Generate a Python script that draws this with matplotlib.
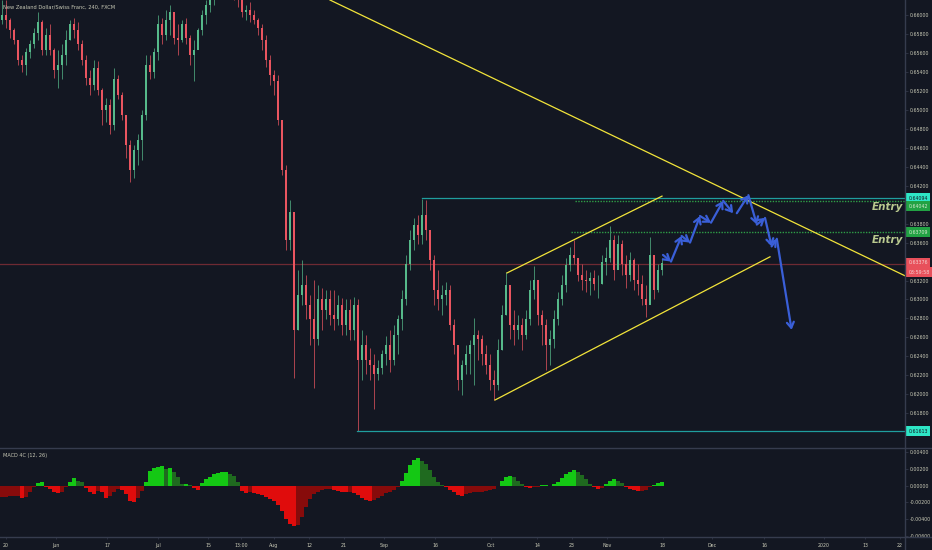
import numpy as np
import matplotlib
matplotlib.use("Agg")
import matplotlib.pyplot as plt
from matplotlib.lines import Line2D

BG = "#131722"
TXT = "#c8c9b6"
SEP = "#363c4e"
UP = "#56b98a"
DOWN = "#ea5560"

highs = [0.6616, 0.6616, 0.6597, 0.6586, 0.6569, 0.6558, 0.6565, 0.6574, 0.6586, 0.6603,
         0.6595, 0.6586, 0.6590, 0.6565, 0.6563, 0.6569, 0.6584, 0.6595, 0.6597, 0.6593,
         0.6574, 0.6558, 0.6542, 0.6553, 0.6551, 0.6523, 0.6513, 0.6511, 0.6544, 0.6537,
         0.6519, 0.6495, 0.6468, 0.6463, 0.6474, 0.6500, 0.6558, 0.6558, 0.6565, 0.6600,
         0.6597, 0.6605, 0.6611, 0.6600, 0.6590, 0.6595, 0.6597, 0.6579, 0.6574, 0.6586,
         0.6605, 0.6616, 0.6621, 0.6637, 0.6653, 0.6658, 0.6658, 0.6648, 0.6642, 0.6632,
         0.6621, 0.6611, 0.6614, 0.6605, 0.6597, 0.6590, 0.6579, 0.6558, 0.6542, 0.6537,
         0.6489, 0.6442, 0.6405, 0.6392, 0.6331, 0.6342, 0.6326, 0.6305, 0.6321, 0.6315,
         0.6312, 0.6310, 0.6310, 0.6310, 0.6305, 0.6302, 0.6300, 0.6300, 0.6303, 0.6300,
         0.6268, 0.6263, 0.6249, 0.6242, 0.6236, 0.6247, 0.6261, 0.6268, 0.6273, 0.6284,
         0.6310, 0.6347, 0.6373, 0.6386, 0.6389, 0.6406, 0.6405, 0.6373, 0.6347, 0.6331,
         0.6315, 0.6318, 0.6315, 0.6279, 0.6252, 0.6236, 0.6252, 0.6257, 0.6281, 0.6268,
         0.6263, 0.6252, 0.6242, 0.6226, 0.6258, 0.6294, 0.6329, 0.6315, 0.6289, 0.6284,
         0.6281, 0.6289, 0.6321, 0.6335, 0.6315, 0.6289, 0.6279, 0.6268, 0.6289, 0.6308,
         0.6326, 0.6344, 0.6355, 0.6363, 0.6344, 0.6337, 0.6331, 0.6329, 0.6331, 0.6326,
         0.6347, 0.6355, 0.6377, 0.6368, 0.6368, 0.6363, 0.6347, 0.6350, 0.6344, 0.6337,
         0.6326, 0.6315, 0.6366, 0.6347, 0.6337, 0.6344]
lows = [0.6590, 0.6586, 0.6576, 0.6569, 0.6547, 0.6540, 0.6537, 0.6555, 0.6565, 0.6574,
        0.6558, 0.6558, 0.6558, 0.6534, 0.6523, 0.6532, 0.6547, 0.6574, 0.6576, 0.6563,
        0.6547, 0.6526, 0.6516, 0.6521, 0.6516, 0.6484, 0.6487, 0.6474, 0.6479, 0.6511,
        0.6489, 0.6449, 0.6424, 0.6428, 0.6442, 0.6447, 0.6489, 0.6532, 0.6534, 0.6553,
        0.6569, 0.6574, 0.6579, 0.6569, 0.6558, 0.6572, 0.6569, 0.6547, 0.6530, 0.6569,
        0.6579, 0.6590, 0.6603, 0.6611, 0.6627, 0.6632, 0.6632, 0.6621, 0.6616, 0.6608,
        0.6598, 0.6595, 0.6593, 0.6590, 0.6579, 0.6563, 0.6545, 0.6526, 0.6516, 0.6484,
        0.6431, 0.6352, 0.6352, 0.6217, 0.6268, 0.6294, 0.6279, 0.6252, 0.6207, 0.6252,
        0.6268, 0.6279, 0.6273, 0.6268, 0.6273, 0.6263, 0.6263, 0.6257, 0.6257, 0.6161,
        0.6215, 0.6221, 0.6215, 0.6184, 0.6215, 0.6221, 0.6231, 0.6224, 0.6231, 0.6242,
        0.6268, 0.6294, 0.6331, 0.6352, 0.6358, 0.6358, 0.6363, 0.6331, 0.6294, 0.6289,
        0.6284, 0.6294, 0.6268, 0.6242, 0.6205, 0.6199, 0.6221, 0.6221, 0.6210, 0.6236,
        0.6231, 0.6221, 0.6205, 0.6194, 0.6205, 0.6247, 0.6284, 0.6258, 0.6252, 0.6258,
        0.6247, 0.6258, 0.6273, 0.6300, 0.6273, 0.6252, 0.6226, 0.6231, 0.6249, 0.6273,
        0.6294, 0.6308, 0.6330, 0.6337, 0.6319, 0.6310, 0.6308, 0.6305, 0.6310, 0.6302,
        0.6316, 0.6326, 0.6340, 0.6321, 0.6333, 0.6326, 0.6312, 0.6319, 0.6310, 0.6305,
        0.6294, 0.6282, 0.6300, 0.6300, 0.6308, 0.6326]
closes = [0.6600, 0.6595, 0.6584, 0.6574, 0.6553, 0.6547, 0.6561, 0.6569, 0.6581, 0.6593,
          0.6563, 0.6579, 0.6563, 0.6542, 0.6547, 0.6558, 0.6574, 0.6590, 0.6584, 0.6569,
          0.6553, 0.6534, 0.6526, 0.6544, 0.6521, 0.6500, 0.6505, 0.6484, 0.6532, 0.6516,
          0.6495, 0.6463, 0.6437, 0.6458, 0.6468, 0.6495, 0.6547, 0.6540, 0.6561, 0.6590,
          0.6579, 0.6595, 0.6603, 0.6576, 0.6574, 0.6590, 0.6576, 0.6558, 0.6563, 0.6584,
          0.6600, 0.6611, 0.6621, 0.6627, 0.6642, 0.6648, 0.6642, 0.6632, 0.6627, 0.6616,
          0.6603, 0.6605, 0.6600, 0.6595, 0.6586, 0.6574, 0.6553, 0.6537, 0.6530, 0.6489,
          0.6437, 0.6363, 0.6392, 0.6268, 0.6305, 0.6315, 0.6294, 0.6279, 0.6258, 0.6300,
          0.6289, 0.6300, 0.6284, 0.6279, 0.6294, 0.6273, 0.6289, 0.6268, 0.6294, 0.6236,
          0.6252, 0.6236, 0.6231, 0.6221, 0.6228, 0.6242, 0.6252, 0.6236, 0.6263, 0.6279,
          0.6300, 0.6337, 0.6363, 0.6379, 0.6368, 0.6389, 0.6373, 0.6342, 0.6310, 0.6300,
          0.6305, 0.6310, 0.6273, 0.6252, 0.6215, 0.6231, 0.6242, 0.6252, 0.6263, 0.6258,
          0.6242, 0.6231, 0.6215, 0.6210, 0.6247, 0.6284, 0.6315, 0.6273, 0.6268, 0.6273,
          0.6263, 0.6279, 0.6310, 0.6321, 0.6284, 0.6273, 0.6252, 0.6258, 0.6279, 0.6300,
          0.6315, 0.6336, 0.6347, 0.6344, 0.6326, 0.6321, 0.6319, 0.6323, 0.6316, 0.6316,
          0.6340, 0.6344, 0.6363, 0.6331, 0.6358, 0.6337, 0.6326, 0.6342, 0.6321, 0.6316,
          0.6300, 0.6294, 0.6347, 0.6310, 0.6331, 0.6338]
first_open = 0.6595

# MACD 4C (12, 26) values per candle
macd = [-0.0014, -0.0014, -0.0012, -0.0012, -0.0012, -0.0015, -0.0014, -0.0008, -0.0002, 0.0003,
        0.0005, -0.0002, -0.0004, -0.0008, -0.0009, -0.0007, -0.0002, 0.0004, 0.0009, 0.0006,
        0.0004, -0.0003, -0.0008, -0.0010, -0.0006, -0.0008, -0.0015, -0.0012, -0.0008, -0.0004,
        -0.0005, -0.0010, -0.0018, -0.0020, -0.0015, -0.0006, 0.0005, 0.0018, 0.0021, 0.0023,
        0.0024, 0.0020, 0.0021, 0.0016, 0.0010, 0.0002, 0.0002, 0.0001, -0.0003, -0.0005,
        0.0003, 0.0008, 0.0011, 0.0014, 0.0015, 0.0016, 0.0016, 0.0014, 0.0012, 0.0004,
        -0.0006, -0.0009, -0.0008, -0.0009, -0.0010, -0.0011, -0.0014, -0.0016, -0.0018, -0.0023,
        -0.0030, -0.0040, -0.0046, -0.0049, -0.0047, -0.0038, -0.0026, -0.0016, -0.0010, -0.0007,
        -0.0005, -0.0004, -0.0004, -0.0005, -0.0006, -0.0007, -0.0008, -0.0008, -0.0009, -0.0011,
        -0.0015, -0.0017, -0.0018, -0.0017, -0.0015, -0.0012, -0.0009, -0.0007, -0.0005, -0.0002,
        0.0006, 0.0015, 0.0025, 0.0031, 0.0033, 0.0030, 0.0026, 0.0019, 0.0011, 0.0005,
        0.0001, -0.0002, -0.0005, -0.0008, -0.0011, -0.0012, -0.0010, -0.0009, -0.0008, -0.0008,
        -0.0007, -0.0006, -0.0005, -0.0004, 0.0000, 0.0006, 0.0011, 0.0012, 0.0010, 0.0006,
        0.0002, -0.0002, -0.0003, -0.0002, -0.0001, 0.0001, 0.0001, 0.0000, 0.0002, 0.0005,
        0.0009, 0.0014, 0.0017, 0.0019, 0.0017, 0.0013, 0.0008, 0.0002, -0.0002, -0.0004,
        -0.0003, 0.0002, 0.0006, 0.0008, 0.0006, 0.0003, -0.0002, -0.0004, -0.0005, -0.0006,
        -0.0006, -0.0005, -0.0002, 0.0001, 0.0003, 0.0004]

# time axis (bar index of each date label)
x_tick_pos = [1, 13.5, 26.25, 39, 51.5, 59.75, 68, 76.75, 85.5, 95.5, 108.25,
              122.25, 133.75, 142.5, 151.25, 165.25, 177.5, 190.5, 205.5, 215.75, 224.5]
x_tick_labels = ["20", "Jun", "17", "Jul", "15", "13:00", "Aug", "12", "21", "Sep", "16",
                 "Oct", "14", "23", "Nov", "18", "Dec", "16", "2020", "13", "22"]

price_ticks = [0.618 + 0.002 * k for k in range(22)]
macd_ticks = [0.004, 0.002, 0.0, -0.002, -0.004, -0.006]
macd_tick_labels = ["0.00400", "0.00200", "0.00000", "-0.00200", "-0.00400", "-0.00600"]

# drawings: (bar index, price) anchors
big_trend = [(82, 0.66158), (225.75, 0.6325)]
chan_upper = [(126.25, 0.6328), (165, 0.6409)]
chan_lower = [(123.25, 0.6194), (192, 0.6345)]
top_level = 0.64070
top_level_start = 105
entry_levels = [0.64042, 0.63709]
entry_starts = [143.25, 142.25]
low_level = 0.61613
low_level_start = 88.75
last_price = 0.63376
path = [(165.25, 0.6347), (167.25, 0.6340), (169.9, 0.6367), (172, 0.6360), (174.5, 0.6388),
        (177.25, 0.6381), (180.3, 0.6404), (182.8, 0.6391), None, (183.7, 0.6391),
        (186.6, 0.6410), (188.7, 0.6379), (190.75, 0.6386), (192.4, 0.6356),
        (193.7, 0.6364), (197.4, 0.6268)]

FS = 3.4

fig = plt.figure(figsize=(9.32, 5.5), dpi=100, facecolor=BG)
W, H = 932.0, 550.0
ax = fig.add_axes([0, 102 / H, 905 / W, 448 / H], facecolor=BG)
ax2 = fig.add_axes([0, 13 / H, 905 / W, 89 / H], facecolor=BG, sharex=ax)

n = len(closes)
idx = np.arange(n)
c = np.array(closes)
o = np.array([first_open] + closes[:-1])
col = np.where(c >= o, UP, DOWN)
ax.vlines(idx, lows, highs, colors=col, lw=0.5, zorder=2)
ax.bar(idx, np.maximum(np.abs(c - o), 0.00008), bottom=np.minimum(o, c),
       width=0.45, color=col, lw=0, zorder=3)

# levels
xmax = 225.75
ax.axhline(last_price, color="#6e2a33", lw=0.9, zorder=1)
ax.plot([top_level_start, xmax], [top_level, top_level], color="#1f9e9e", lw=0.9, zorder=4)
for lv, st in zip(entry_levels, entry_starts):
    ax.plot([st, xmax], [lv, lv], color="#2e9e46", lw=1.0, ls=(0, (1, 1)), zorder=4)
ax.plot([low_level_start, xmax], [low_level, low_level], color="#1f9e9e", lw=0.9, zorder=4)

for ln in (big_trend, chan_upper, chan_lower):
    ax.plot([ln[0][0], ln[1][0]], [ln[0][1], ln[1][1]], color="#f2e43a", lw=0.9, zorder=4)

# blue projection arrows
for a, b in zip(path[:-1], path[1:]):
    if a is None or b is None:
        continue
    ax.annotate("", xy=b, xytext=a,
                arrowprops=dict(arrowstyle="->,head_length=0.4,head_width=0.25",
                                color="#3a5fd8", lw=1.6, shrinkA=0, shrinkB=0), zorder=5)

for lv, ytxt in zip(entry_levels, [0.6398, 0.6363]):
    ax.text(225.25, ytxt, "Entry", color="#b9c98f", fontsize=7.5, fontweight="bold",
            fontstyle="italic", ha="right", va="center", zorder=6)

ax.set_xlim(-0.5, xmax)
ax.set_ylim(0.61434, 0.661582)
ax.yaxis.tick_right()
ax.set_yticks(price_ticks)
ax.set_yticklabels([f"{v:.5f}" for v in price_ticks])
ax.tick_params(axis="y", length=2, width=0.5, color=SEP, labelsize=FS, labelcolor=TXT, pad=1.2)
ax.tick_params(axis="x", bottom=False, labelbottom=False)
for s in ax.spines.values():
    s.set_visible(False)

# right-axis price tags
ytr = ax.get_yaxis_transform()
tags = [(top_level, "0.64094", "#2ee6c6", "#131722", 0),
        (entry_levels[0], "0.64042", "#22a244", "#d8e8d0", -4),
        (entry_levels[1], "0.63709", "#22a244", "#d8e8d0", 0),
        (last_price, "0.63376", "#e8505b", "#f5d0d0", 1),
        (last_price, "03:59:58", "#e8505b", "#f5d0d0", -6),
        (low_level, "0.61613", "#2ee6c6", "#131722", 0)]
for p, t, fc, tc, dy in tags:
    ax.annotate(t, xy=(1.0, p), xycoords=ytr, xytext=(2.6, dy), textcoords="offset points",
                fontsize=FS, color=tc, ha="left", va="center", annotation_clip=False,
                bbox=dict(boxstyle="square,pad=0.5", fc=fc, ec="none"), zorder=10)

# MACD 4C
m = np.array(macd)
prev = np.concatenate([[m[0]], m[:-1]])
mcol = np.where(m >= 0, np.where(m >= prev, "#14c814", "#1f6a1f"),
                np.where(m < prev, "#e00c0c", "#870b0b"))
ax2.bar(idx, m, width=1.0, color=mcol, lw=0)
ax2.set_ylim(-0.00618, 0.00454)
ax2.yaxis.tick_right()
ax2.set_yticks(macd_ticks)
ax2.set_yticklabels(macd_tick_labels)
ax2.tick_params(axis="y", length=2, width=0.5, color=SEP, labelsize=FS, labelcolor=TXT, pad=1.2)
ax2.set_xticks(x_tick_pos)
ax2.set_xticklabels(x_tick_labels)
ax2.tick_params(axis="x", length=1.5, width=0.5, color=SEP, labelsize=FS, labelcolor=TXT, pad=2.5)
for s in ax2.spines.values():
    s.set_visible(False)

# pane separators
fig.add_artist(Line2D([0, 1], [102 / H, 102 / H], color=SEP, lw=1.0))
fig.add_artist(Line2D([0, 1], [13 / H, 13 / H], color=SEP, lw=1.0))
fig.add_artist(Line2D([905 / W, 905 / W], [0, 1], color=SEP, lw=1.0))

fig.text(3 / W, 1 - 7 / H, "New Zealand Dollar/Swiss Franc, 240, FXCM", fontsize=3.7,
         color=TXT, ha="left", va="center")
fig.text(3 / W, 1 - 456 / H, "MACD 4C (12, 26)", fontsize=3.6, color=TXT, ha="left", va="center")

fig.savefig("out.png", dpi=100, facecolor=BG)
